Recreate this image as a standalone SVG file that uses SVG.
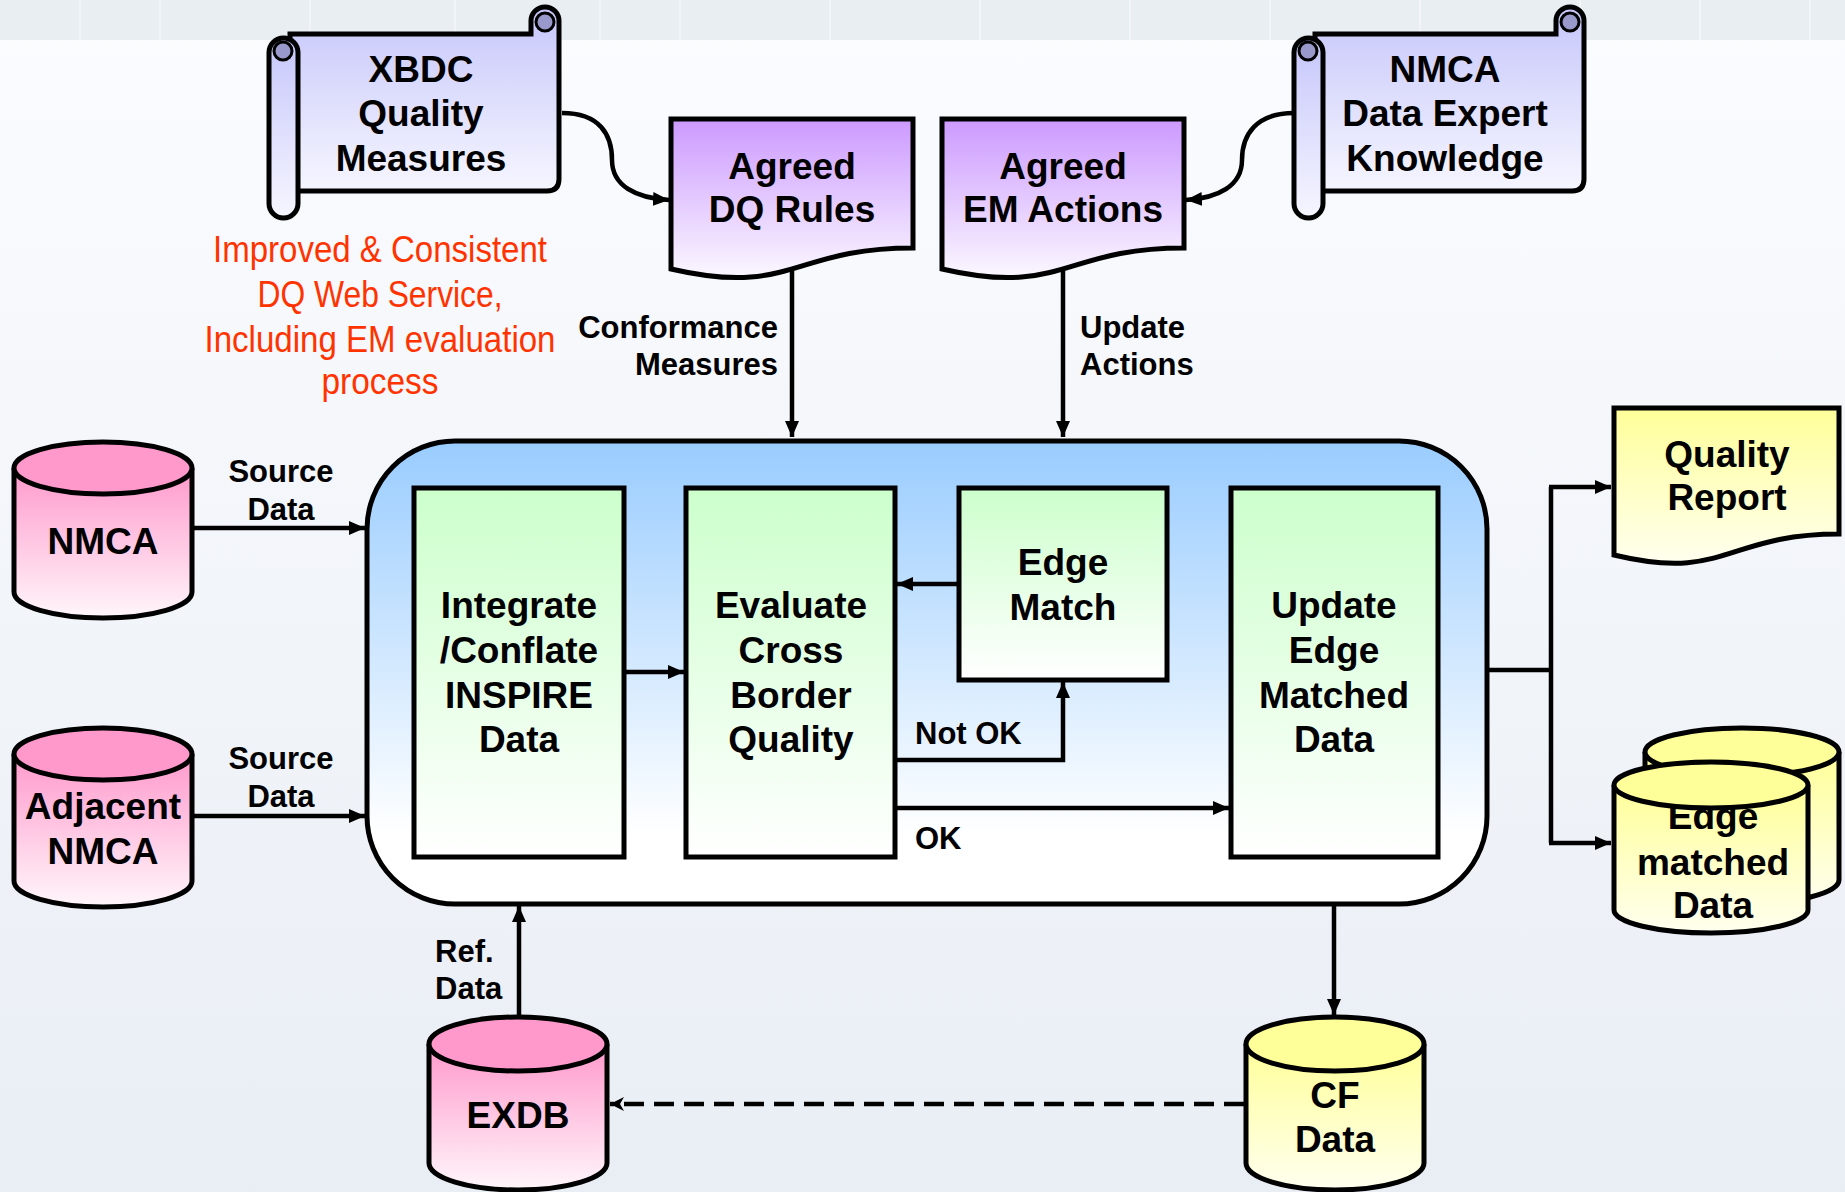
<svg xmlns="http://www.w3.org/2000/svg" width="1845" height="1192" viewBox="0 0 1845 1192">
<defs>
<linearGradient id="bg" x1="0" y1="0" x2="0" y2="1"><stop offset="0" stop-color="#fbfcfe"/><stop offset="1" stop-color="#e9eef5"/></linearGradient>
<linearGradient id="gScroll" x1="0" y1="0" x2="0" y2="1"><stop offset="0" stop-color="#c6c6fb"/><stop offset="1" stop-color="#f6f6ff"/></linearGradient>
<linearGradient id="gPurple" x1="0" y1="0" x2="0" y2="1"><stop offset="0" stop-color="#cc99ff"/><stop offset="1" stop-color="#fbf8ff"/></linearGradient>
<linearGradient id="gBlue" x1="0" y1="0" x2="0" y2="1"><stop offset="0" stop-color="#99ccff"/><stop offset="0.85" stop-color="#ffffff"/></linearGradient>
<linearGradient id="gGreen" x1="0" y1="0" x2="0" y2="1"><stop offset="0" stop-color="#ccffcc"/><stop offset="1" stop-color="#ffffff"/></linearGradient>
<linearGradient id="gPink" x1="0" y1="0" x2="0" y2="1"><stop offset="0" stop-color="#ff99cc"/><stop offset="1" stop-color="#fff6fa"/></linearGradient>
<linearGradient id="gYellow" x1="0" y1="0" x2="0" y2="1"><stop offset="0" stop-color="#ffff99"/><stop offset="1" stop-color="#ffffef"/></linearGradient>
<marker id="ah" markerUnits="userSpaceOnUse" markerWidth="16" markerHeight="14" refX="16" refY="7" orient="auto"><path d="M0,0 L16,7 L0,14 Z" fill="#000"/></marker>
<marker id="ahs" markerUnits="userSpaceOnUse" markerWidth="14" markerHeight="16" refX="14" refY="8" orient="auto"><path d="M0,1 L14,8 L0,15 L4,8 Z" fill="#000"/></marker>
</defs>
<style>
.lbl{font-family:"Liberation Sans",Arial,sans-serif;font-weight:bold;font-size:37px;fill:#000;text-anchor:middle}
.sm{font-family:"Liberation Sans",Arial,sans-serif;font-weight:bold;font-size:31px;fill:#000}
.red{font-family:"Liberation Sans",Arial,sans-serif;font-size:37px;fill:#ff3300;text-anchor:middle}
.box{stroke:#000;stroke-width:5}
.conn{stroke:#000;stroke-width:4.5;fill:none}
</style>

<rect x="0" y="0" width="1845" height="1192" fill="url(#bg)"/>
<rect x="0" y="0" width="1845" height="40" fill="#e9eef3"/>
<g stroke="#f7f9fb" stroke-width="2" opacity="0.7">
<line x1="80" y1="0" x2="80" y2="40"/><line x1="160" y1="0" x2="160" y2="40"/><line x1="310" y1="0" x2="310" y2="40"/><line x1="455" y1="0" x2="455" y2="40"/><line x1="600" y1="0" x2="600" y2="40"/><line x1="680" y1="0" x2="680" y2="40"/><line x1="830" y1="0" x2="830" y2="40"/><line x1="980" y1="0" x2="980" y2="40"/><line x1="1130" y1="0" x2="1130" y2="40"/><line x1="1270" y1="0" x2="1270" y2="40"/><line x1="1420" y1="0" x2="1420" y2="40"/><line x1="1580" y1="0" x2="1580" y2="40"/><line x1="1700" y1="0" x2="1700" y2="40"/><line x1="1810" y1="0" x2="1810" y2="40"/>
</g>

<g id="xbdc">
<path class="box" fill="url(#gScroll)" d="M290,34 H531 V21 A14,14 0 0 1 559,21 V179 Q559,191 547,191 H290 Z"/>
<circle cx="545" cy="22" r="9" fill="#9999cc" stroke="#000" stroke-width="3"/>
<rect class="box" fill="url(#gScroll)" x="269" y="38" width="29" height="180" rx="14.5"/>
<circle cx="283" cy="51" r="9" fill="#9999cc" stroke="#000" stroke-width="3"/>
<text class="lbl" x="421" y="82">XBDC</text>
<text class="lbl" x="421" y="126">Quality</text>
<text class="lbl" x="421" y="171">Measures</text>
</g>

<g id="nmca-expert">
<path class="box" fill="url(#gScroll)" d="M1315,34 H1556 V21 A14,14 0 0 1 1584,21 V179 Q1584,191 1572,191 H1315 Z"/>
<circle cx="1570" cy="22" r="9" fill="#9999cc" stroke="#000" stroke-width="3"/>
<rect class="box" fill="url(#gScroll)" x="1294" y="38" width="29" height="180" rx="14.5"/>
<circle cx="1308" cy="51" r="9" fill="#9999cc" stroke="#000" stroke-width="3"/>
<text class="lbl" x="1445" y="82">NMCA</text>
<text class="lbl" x="1445" y="126">Data Expert</text>
<text class="lbl" x="1445" y="171">Knowledge</text>
</g>

<g id="note">
<text class="red" x="380" y="262" textLength="334" lengthAdjust="spacingAndGlyphs">Improved &amp; Consistent</text>
<text class="red" x="380" y="307" textLength="245" lengthAdjust="spacingAndGlyphs">DQ Web Service,</text>
<text class="red" x="380" y="352" textLength="351" lengthAdjust="spacingAndGlyphs">Including EM evaluation</text>
<text class="red" x="380" y="394" textLength="117" lengthAdjust="spacingAndGlyphs">process</text>
</g>

<g id="dq-rules">
<path class="box" fill="url(#gPurple)" d="M671,119 H913 V248 C792,248 792,297 671,269 Z"/>
<text class="lbl" x="792" y="179">Agreed</text>
<text class="lbl" x="792" y="222">DQ Rules</text>
</g>

<g id="em-actions">
<path class="box" fill="url(#gPurple)" d="M942,119 H1184 V248 C1063,248 1063,297 942,269 Z"/>
<text class="lbl" x="1063" y="179">Agreed</text>
<text class="lbl" x="1063" y="222">EM Actions</text>
</g>

<g id="process">
<rect class="box" fill="url(#gBlue)" x="367" y="441" width="1120" height="463" rx="88"/>
</g>

<g id="integrate">
<rect class="box" fill="url(#gGreen)" x="414" y="488" width="210" height="369"/>
<text class="lbl" x="519" y="618">Integrate</text>
<text class="lbl" x="519" y="663">/Conflate</text>
<text class="lbl" x="519" y="708">INSPIRE</text>
<text class="lbl" x="519" y="752">Data</text>
</g>

<g id="evaluate">
<rect class="box" fill="url(#gGreen)" x="686" y="488" width="209" height="369"/>
<text class="lbl" x="791" y="618">Evaluate</text>
<text class="lbl" x="791" y="663">Cross</text>
<text class="lbl" x="791" y="708">Border</text>
<text class="lbl" x="791" y="752">Quality</text>
</g>

<g id="edge-match">
<rect class="box" fill="url(#gGreen)" x="959" y="488" width="208" height="192"/>
<text class="lbl" x="1063" y="575">Edge</text>
<text class="lbl" x="1063" y="620">Match</text>
</g>

<g id="update">
<rect class="box" fill="url(#gGreen)" x="1231" y="488" width="207" height="369"/>
<text class="lbl" x="1334" y="618">Update</text>
<text class="lbl" x="1334" y="663">Edge</text>
<text class="lbl" x="1334" y="708">Matched</text>
<text class="lbl" x="1334" y="752">Data</text>
</g>

<g id="nmca">
<path class="box" fill="url(#gPink)" d="M14,468 V592 A89,26 0 0 0 192,592 V468"/>
<ellipse class="box" fill="#ff99cc" cx="103" cy="468" rx="89" ry="26"/>
<text class="lbl" x="103" y="554">NMCA</text>
</g>

<g id="adjacent">
<path class="box" fill="url(#gPink)" d="M14,754 V881 A89,26 0 0 0 192,881 V754"/>
<ellipse class="box" fill="#ff99cc" cx="103" cy="754" rx="89" ry="26"/>
<text class="lbl" x="103" y="819">Adjacent</text>
<text class="lbl" x="103" y="864">NMCA</text>
</g>

<g id="quality-report">
<path class="box" fill="url(#gYellow)" d="M1614,408 H1839 V534 C1726,534 1726,582 1614,555 Z"/>
<text class="lbl" x="1727" y="467">Quality</text>
<text class="lbl" x="1727" y="510">Report</text>
</g>

<g id="edge-matched-data">
<path class="box" fill="url(#gYellow)" d="M1645,752 V880 A97,24 0 0 0 1839,880 V752"/>
<ellipse class="box" fill="#ffff99" cx="1742" cy="752" rx="97" ry="24"/>
<path class="box" fill="url(#gYellow)" d="M1614,785 V910 A97,23 0 0 0 1808,910 V785"/>
<text class="lbl" x="1713" y="829">Edge</text>
<ellipse class="box" fill="#ffff99" cx="1711" cy="785" rx="97" ry="23"/>
<text class="lbl" x="1713" y="875">matched</text>
<text class="lbl" x="1713" y="918">Data</text>
</g>

<g id="exdb">
<path class="box" fill="url(#gPink)" d="M429,1044 V1163 A89,27 0 0 0 607,1163 V1044"/>
<ellipse class="box" fill="#ff99cc" cx="518" cy="1044" rx="89" ry="27"/>
<text class="lbl" x="518" y="1128">EXDB</text>
</g>

<g id="cf-data">
<path class="box" fill="url(#gYellow)" d="M1246,1044 V1163 A89,27 0 0 0 1424,1163 V1044"/>
<ellipse class="box" fill="#ffff99" cx="1335" cy="1044" rx="89" ry="27"/>
<text class="lbl" x="1335" y="1108">CF</text>
<text class="lbl" x="1335" y="1152">Data</text>
</g>

<g id="connectors">
<path class="conn" marker-end="url(#ah)" d="M562,113 C600,113 612,135 612,160 C612,186 636,198 669,200"/>
<path class="conn" marker-end="url(#ah)" d="M1294,113 C1256,113 1242,135 1242,160 C1242,186 1218,198 1186,200"/>
<line class="conn" marker-end="url(#ah)" x1="792" y1="270" x2="792" y2="437"/>
<line class="conn" marker-end="url(#ah)" x1="1063" y1="270" x2="1063" y2="437"/>
<line class="conn" marker-end="url(#ah)" x1="192" y1="528" x2="365" y2="528"/>
<line class="conn" marker-end="url(#ah)" x1="192" y1="816" x2="365" y2="816"/>
<line class="conn" marker-end="url(#ah)" x1="624" y1="672" x2="684" y2="672"/>
<line class="conn" marker-end="url(#ah)" x1="959" y1="584" x2="897" y2="584"/>
<path class="conn" marker-end="url(#ah)" d="M895,760 H1063 V682"/>
<line class="conn" marker-end="url(#ah)" x1="895" y1="808" x2="1229" y2="808"/>
<path class="conn" d="M1487,670 H1551 M1551,487 V843"/>
<line class="conn" marker-end="url(#ah)" x1="1549" y1="487" x2="1611" y2="487"/>
<line class="conn" marker-end="url(#ah)" x1="1549" y1="843" x2="1611" y2="843"/>
<line class="conn" marker-end="url(#ah)" x1="1334" y1="904" x2="1334" y2="1015"/>
<line class="conn" marker-end="url(#ah)" x1="519" y1="1017" x2="519" y2="906"/>
<line class="conn" stroke-width="6" stroke-dasharray="20 10" marker-end="url(#ahs)" x1="1244" y1="1104" x2="610" y2="1104"/>
<text class="sm" x="778" y="338" text-anchor="end">Conformance</text>
<text class="sm" x="778" y="375" text-anchor="end">Measures</text>
<text class="sm" x="1080" y="338">Update</text>
<text class="sm" x="1080" y="375">Actions</text>
<text class="sm" x="281" y="482" text-anchor="middle">Source</text>
<text class="sm" x="281" y="520" text-anchor="middle">Data</text>
<text class="sm" x="281" y="769" text-anchor="middle">Source</text>
<text class="sm" x="281" y="807" text-anchor="middle">Data</text>
<text class="sm" x="915" y="744">Not OK</text>
<text class="sm" x="915" y="849">OK</text>
<text class="sm" x="435" y="962">Ref.</text>
<text class="sm" x="435" y="999">Data</text>
</g>
</svg>
